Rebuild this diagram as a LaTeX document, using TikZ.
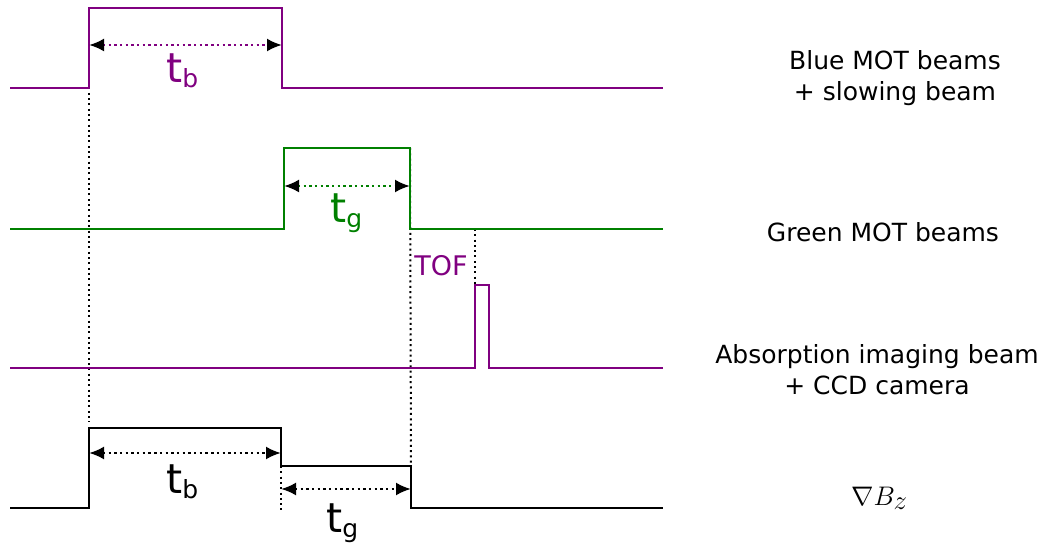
\documentclass[tikz,border=0pt]{standalone}
\usepackage{fontspec}
\setmainfont{DejaVu Sans}
\usetikzlibrary{arrows.meta}
\definecolor{mpurple}{RGB}{128,0,128}
\definecolor{mgreen}{RGB}{0,128,0}
\newcommand{\tlabel}[1]{t\raisebox{-5pt}{\fontsize{25}{25}\selectfont #1}}
\begin{document}
\begin{tikzpicture}[x=1pt,y=-1pt,
  sig/.style={line width=2.3pt},
  vguide/.style={dash pattern=on 2pt off 3.3pt, line width=2pt, black},
  dur/.style={dash pattern=on 2.4pt off 3.3pt, line width=2.4pt, {Latex[length=15pt,width=13pt,black]}-{Latex[length=15pt,width=13pt,black]}},
  lbl/.style={font=\fontsize{25}{31}\selectfont, align=center, inner sep=0},
  tlab/.style={font=\fontsize{41}{44}\selectfont, inner sep=0, anchor=base west}]
\useasboundingbox (0,0) rectangle (1042,545);
% key coordinates
\coordinate (b0) at (10,88);  \coordinate (b1) at (89,88);  \coordinate (b2) at (89,8);
\coordinate (b3) at (282,8);  \coordinate (b4) at (282,88); \coordinate (b5) at (663,88);
\coordinate (g0) at (10,229); \coordinate (g1) at (284,229); \coordinate (g2) at (284,148);
\coordinate (g3) at (410,148); \coordinate (g4) at (410,229); \coordinate (g5) at (663,229);
\coordinate (i0) at (10,368); \coordinate (i1) at (475,368); \coordinate (i2) at (475,285);
\coordinate (i3) at (489,285); \coordinate (i4) at (489,368); \coordinate (i5) at (663,368);
\coordinate (k0) at (10,508); \coordinate (k1) at (89,508); \coordinate (k2) at (89,428);
\coordinate (k3) at (281,428); \coordinate (k4) at (281,466); \coordinate (k5) at (411,466);
\coordinate (k6) at (411,508); \coordinate (k7) at (663,508);
\coordinate (d0) at (89,422); \coordinate (d1) at (281,512); \coordinate (d2) at (475,229);
% guide lines
\draw[vguide] (b2) -- (d0);
\draw[vguide] (g3) -- (k5);
\draw[vguide] (d2) -- (i2);
\draw[vguide] (k4) -- (d1);
% signals
\draw[sig, mpurple] (b0) -- (b1) -- (b2) -- (b3) -- (b4) -- (b5);
\draw[sig, mgreen] (g0) -- (g1) -- (g2) -- (g3) -- (g4) -- (g5);
\draw[sig, mpurple] (i0) -- (i1) -- (i2) -- (i3) -- (i4) -- (i5);
\draw[sig, black] (k0) -- (k1) -- (k2) -- (k3) -- (k4) -- (k5) -- (k6) -- (k7);
% durations
\coordinate (a1) at (89,45);  \coordinate (a2) at (282,45);
\coordinate (a3) at (284,186); \coordinate (a4) at (410,186);
\coordinate (a5) at (89,453); \coordinate (a6) at (281,453);
\coordinate (a7) at (281,489); \coordinate (a8) at (411,489);
\draw[dur, mpurple] (a1) -- (a2);
\draw[dur, mgreen] (a3) -- (a4);
\draw[dur, black] (a5) -- (a6);
\draw[dur, black] (a7) -- (a8);
\node[tlab, mpurple] (tb1) at (166,83) {\tlabel{b}};
\node[tlab, mgreen] (tg1) at (330,223) {\tlabel{g}};
\node[tlab, black] (tb2) at (166,493) {\tlabel{b}};
\node[tlab, black] (tg2) at (326,532) {\tlabel{g}};
\node[font=\fontsize{27}{30}\selectfont, mpurple, inner sep=0] (tof) at (441,266) {TOF};
% right labels
\node[lbl] (l1) at (895,78) {Blue MOT beams\\+ slowing beam};
\node[lbl] (l2) at (883,232) {Green MOT beams};
\node[lbl] (l3) at (877,370) {Absorption imaging beam\\+ CCD camera};
\node[font=\fontsize{33}{36}\selectfont, inner sep=0, anchor=base west] (l4) at (851,505) {\scalebox{1.08}{$\nabla B_z$}};
\end{tikzpicture}
\end{document}
